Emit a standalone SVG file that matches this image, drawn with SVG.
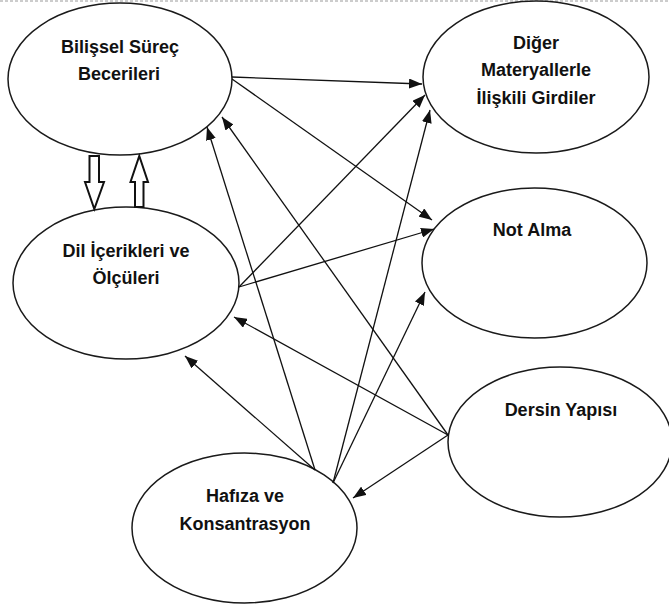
<svg xmlns="http://www.w3.org/2000/svg" width="669" height="611" viewBox="0 0 669 611">
<style>
.node ellipse{fill:#fff;stroke:#1a1a1a;stroke-width:1.5}
.lbl{font-family:"Liberation Sans",Arial,sans-serif;font-weight:bold;font-size:18px;fill:#111;text-anchor:middle}
.conn line{stroke:#111;stroke-width:1.3;fill:none;marker-end:url(#ah)}
.blk{fill:#fff;stroke:#111;stroke-width:2;stroke-linejoin:miter}
</style>
<defs>
<marker id="ah" markerUnits="userSpaceOnUse" markerWidth="14" markerHeight="10" refX="13" refY="5" orient="auto">
<path d="M0,0 L13,5 L0,10 z" fill="#111"/>
</marker>
</defs>
<rect width="669" height="611" fill="#fff"/>
<line x1="0" y1="1" x2="669" y2="1" stroke="#9a9a9a" stroke-width="1" stroke-dasharray="3,2"/>
<g id="n-bilissel" class="node">
<ellipse cx="120" cy="79" rx="112" ry="76"/>
<text class="lbl" x="120" y="53">Bilişsel Süreç</text>
<text class="lbl" x="119" y="80">Becerileri</text>
</g>
<g id="n-diger" class="node">
<ellipse cx="536" cy="77" rx="113" ry="76"/>
<text class="lbl" x="536" y="49">Diğer</text>
<text class="lbl" x="536" y="76">Materyallerle</text>
<text class="lbl" x="536" y="104">İlişkili Girdiler</text>
</g>
<g id="n-dil" class="node">
<ellipse cx="126" cy="283" rx="113" ry="76"/>
<text class="lbl" x="126" y="257">Dil İçerikleri ve</text>
<text class="lbl" x="126" y="284">Ölçüleri</text>
</g>
<g id="n-not" class="node">
<ellipse cx="534.5" cy="263" rx="112.5" ry="75"/>
<text class="lbl" x="532" y="236">Not Alma</text>
</g>
<g id="n-dersin" class="node">
<ellipse cx="560" cy="442" rx="112" ry="75"/>
<text class="lbl" x="561" y="416">Dersin Yapısı</text>
</g>
<g id="n-hafiza" class="node">
<ellipse cx="244.5" cy="528" rx="112.5" ry="75"/>
<text class="lbl" x="245" y="502">Hafıza ve</text>
<text class="lbl" x="245" y="530">Konsantrasyon</text>
</g>
<g id="connectors" class="conn">
<line x1="232" y1="77" x2="422" y2="84"/>
<line x1="232" y1="79" x2="432" y2="220"/>
<line x1="239" y1="287" x2="425" y2="95"/>
<line x1="239" y1="287" x2="434" y2="229"/>
<line x1="315" y1="470" x2="207" y2="127"/>
<line x1="315" y1="470" x2="185" y2="356"/>
<line x1="333" y1="483" x2="430" y2="110"/>
<line x1="333" y1="483" x2="425" y2="292"/>
<line x1="448" y1="435" x2="222" y2="117"/>
<line x1="448" y1="435" x2="234" y2="317"/>
<line x1="448" y1="435" x2="353" y2="498"/>
<polygon class="blk" points="89.5,156 99,156 99,182 104,182 94.3,209 85,182 89.5,182"/>
<polygon class="blk" points="139.3,156 148,182 143.5,182 143.5,207 135,207 135,182 130.5,182"/>
</g>
</svg>
